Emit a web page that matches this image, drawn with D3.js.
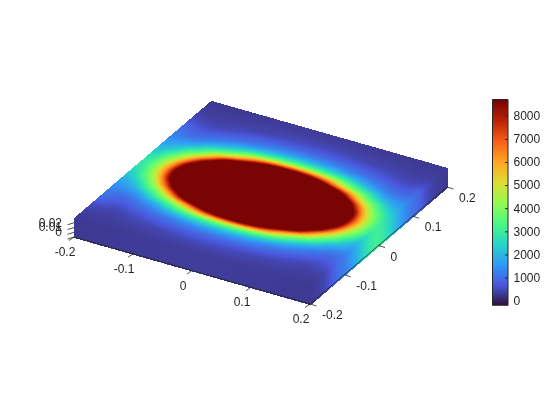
<!DOCTYPE html>
<html>
<script src='https://cdn.jsdelivr.net/npm/d3@7'></script>
<style>
 body {margin: 0; background: white;}
 #plot {position: absolute; left: 0; top: 0;}
 svg {position: absolute; left: 0; top: 0;}
 text {font-family: 'Liberation Sans', Arial, sans-serif; font-size: 12px; fill: #262626;}
</style>
<body>
<canvas id='plot' width=560 height=420></canvas>
<svg width=560 height=420></svg>
<script>

// grid nodes of one quadrant, the surface is read as mirrored around its peak
var gridPos = [0, 0.02, 0.04, 0.06, 0.08, 0.1, 0.12, 0.14, 0.16, 0.18, 0.2];
var peakAt = [0.005, -0.005];

// rows are y, columns are x. The core is off the colour range so those are guesses
var row00 = [22600,22350,21580,20300,18510,16200,13400,10070,6370,4000,2900];
var row02 = [21830,21580,20810,19530,17740,15430,12630,9300,5780,3760,2700];
var row04 = [19510,19250,18480,17210,15420,13110,10310,7000,4470,3100,2250];
var row06 = [15630,15380,14610,13330,11540,9230,6540,4450,3230,2200,1800];
var row08 = [10200,9940,9170,7900,6260,4800,3730,2760,1900,1550,1400];
var row10 = [4510,4390,4120,3710,3190,2550,1930,1490,1180,1030,1150];
var row12 = [2020,1970,1880,1710,1470,1280,1100,930,780,760,950];
var row14 = [1030,1020,985,935,860,770,660,570,500,530,620];
var row16 = [600,590,570,535,490,460,440,410,380,380,410];
var row18 = [400,395,390,380,370,360,345,335,320,320,320];
var row20 = [310,310,305,300,295,290,285,280,275,275,275];
var rows = [row00,row02,row04,row06,row08,row10,row12,row14,row16,row18,row20];

var axisTicks = [-0.2, -0.1, 0, 0.1, 0.2];
var zTicks = [0, 0.01, 0.02, 0.03];
var zLabels = [0, 0.01, 0.02];
var barTicks = [0,1000,2000,3000,4000,5000,6000,7000,8000];
var barRange = [-186, 8680];

var xToPx = d3.scaleLinear().domain([-0.2,0.2]).range([0,236]);
var xToPy = d3.scaleLinear().domain([-0.2,0.2]).range([0,67]);
var yToPx = d3.scaleLinear().domain([-0.2,0.2]).range([0,137]);
var yToPy = d3.scaleLinear().domain([-0.2,0.2]).range([0,-117]);
var zToPy = d3.scaleLinear().domain([0,0.04]).range([0,-19]);

// d3 turbo drifts at both ends, pin those to the colours of the bar
var stops = [0.1,0.2,0.3,0.4,0.5,0.6,0.7,0.8,0.9];
var toT = d3.scaleLinear().domain(barRange).range([0,1]).clamp(true);
var palette = d3.scaleLinear()
 .domain([0,0.055].concat(stops,[1]))
 .range(['#30123b','rgb(63,59,151)'].concat(stops.map(d3.interpolateTurbo),['#7a0403']));
function color(v) { return palette(toT(v)); }

function project(x, y, z) {
 return [74 + xToPx(x) + yToPx(y), 237 + xToPy(x) + yToPy(y) + zToPy(z)];
}

var n = gridPos.length;
function node(i, j) {
 i = Math.min(Math.abs(i), n-1);
 j = Math.min(Math.abs(j), n-1);
 return rows[j][i];
}
function cr(a, b, c, d, t) {
 return b + 0.5*t*(c-a + t*(2*a-5*b+4*c-d + t*(3*(b-c)+d-a)));
}
// smooth shading between the nodes, like shading interp
function valueAt(x, y) {
 var gx = Math.min(Math.abs(x-peakAt[0]), 0.2)/0.02;
 var gy = Math.min(Math.abs(y-peakAt[1]), 0.2)/0.02;
 var i = Math.min(Math.floor(gx), 9), j = Math.min(Math.floor(gy), 9);
 var tx = gx-i, ty = gy-j;
 var col = [];
 for (var k = -1; k <= 2; k++) {
  col.push(cr(node(i-1,j+k), node(i,j+k), node(i+1,j+k), node(i+2,j+k), tx));
 }
 return cr(col[0], col[1], col[2], col[3], ty);
}

// paint surface and the two side faces
var ctx = document.getElementById('plot').getContext('2d');
var img = ctx.createImageData(560, 420);
var lut = d3.range(1024).map(function(i) {
 return d3.rgb(color(barRange[0] + (barRange[1]-barRange[0])*i/1023));
});
function put(p, v) {
 var px = Math.round(p[0]), py = Math.round(p[1]);
 var c = lut[Math.max(0, Math.min(1023, Math.round((v-barRange[0])/(barRange[1]-barRange[0])*1023)))];
 var o = (py*560 + px)*4;
 img.data[o] = c.r; img.data[o+1] = c.g; img.data[o+2] = c.b; img.data[o+3] = 255;
}
var steps = 900;
d3.range(steps+1).forEach(function(a) {
 var s = -0.2 + 0.4*a/steps;
 d3.range(0, 0.0401, 0.001).forEach(function(z) {
  put(project(s, -0.2, z), valueAt(s, -0.2));
  put(project(0.2, s, z), valueAt(0.2, s));
 });
});
d3.range(steps+1).forEach(function(a) {
 var x = -0.2 + 0.4*a/steps;
 d3.range(steps+1).forEach(function(b) {
  var y = -0.2 + 0.4*b/steps;
  put(project(x, y, 0.04), valueAt(x, y));
 });
});
ctx.putImageData(img, 0, 0);

var svg = d3.select('svg');
var dark = '#262626';
function seg(a, b) {
 svg.append('line')
  .attr('x1',a[0]).attr('y1',a[1]).attr('x2',b[0]).attr('y2',b[1])
  .attr('stroke',dark).attr('stroke-width',0.8);
}

// 3d axes
seg(project(-0.2,-0.2,0), project(0.2,-0.2,0));
seg(project(0.2,-0.2,0), project(0.2,0.2,0));

axisTicks.forEach(function(t) {
 var p = project(t,-0.2,0);
 seg(p, [p[0]-5, p[1]+3.5]);
 svg.append('text').attr('x',p[0]-9).attr('y',p[1]+15).attr('dy','0.35em')
  .attr('text-anchor','middle').text(t);

 var q = project(0.2,t,0);
 seg(q, [q[0]+6.5, q[1]+2]);
 svg.append('text').attr('x',q[0]+12).attr('y',q[1]+11).attr('dy','0.35em')
  .text(t);
});

zTicks.forEach(function(t) {
 var p = project(-0.2,-0.2,t);
 seg(p, [p[0]-6.5, p[1]+2]);
});
zLabels.forEach(function(t) {
 var p = project(-0.2,-0.2,t);
 svg.append('text').attr('x',p[0]-12).attr('y',p[1]-5).attr('dy','0.35em')
  .attr('text-anchor','end').text(t);
});

// colorbar
var barY = d3.scaleLinear().domain(barRange).range([305,100]);
var levels = d3.range(256).map(function(i) {
 return barRange[0] + (barRange[1]-barRange[0])*i/255;
});
svg.append('g').selectAll('rect').data(levels).enter().append('rect')
 .attr('x',492.5).attr('width',15.5)
 .attr('y',function(d) {return barY(d)-1;})
 .attr('height',1.6)
 .attr('fill',function(d) {return color(d);});
svg.append('rect').attr('x',492.5).attr('y',100).attr('width',15.5).attr('height',205)
 .attr('fill','none').attr('stroke',dark).attr('stroke-width',1);

var barAxis = d3.axisRight(barY).tickValues(barTicks).tickSize(-3).tickPadding(5.5).tickFormat(d3.format('d'));
svg.append('g').attr('transform','translate(508,0)').call(barAxis)
 .call(function(g) {g.select('.domain').remove();})
 .call(function(g) {g.selectAll('line').attr('stroke',dark);})
 .call(function(g) {g.selectAll('text').attr('font-family',null).attr('font-size',null).attr('fill',null);});
svg.selectAll('g text').style('font-size','12px');

</script>
</body>
</html>
